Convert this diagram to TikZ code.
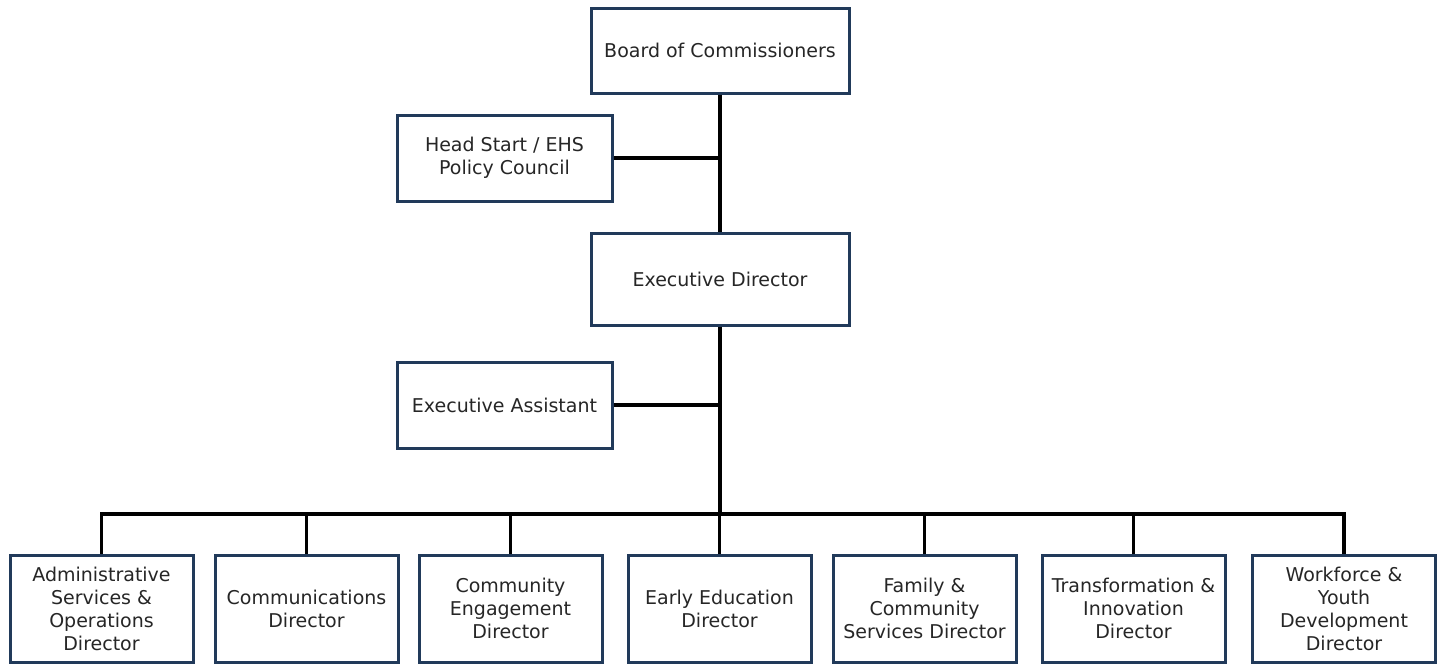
\documentclass[tikz,border=0pt]{standalone}
\usepackage{fontspec}
\setmainfont{DejaVu Sans}
\begin{document}
\begin{tikzpicture}[x=1pt,y=-1pt,
  box/.style={draw=boxblue,line width=3pt,fill=white,inner sep=0pt,align=center,
    font=\fontsize{19}{23}\selectfont,text=black!85},
  link/.style={line width=3.2pt,black}]
\definecolor{boxblue}{HTML}{213A5A}
\useasboundingbox (0,0) rectangle (1442,664);
% top boxes
\node[box,minimum width=258pt,minimum height=85pt] (board) at (720,50.5) {Board of Commissioners};
\node[box,minimum width=215pt,minimum height=86pt] (hs) at (504.5,158) {Head Start / EHS\\Policy Council};
\node[box,minimum width=258pt,minimum height=92pt] (ed) at (720,279) {Executive Director};
\node[box,minimum width=215pt,minimum height=86pt] (ea) at (504.5,405) {Executive Assistant};
% bottom boxes
\foreach \n/\x/\t in {a/101.5/{Administrative\\Services \&\\Operations\\Director},
  b/306.5/{Communications\\Director},
  c/510.5/{Community\\Engagement\\Director},
  d/719.5/{Early Education\\Director},
  e/924.5/{Family \&\\Community\\Services Director},
  f/1133.5/{Transformation \&\\Innovation\\Director},
  g/1344/{Workforce \&\\Youth\\Development\\Director}}
  \node[box,minimum width=183pt,minimum height=107pt] (\n) at (\x,608.5) {\t};
\coordinate (j1) at (720,158);
\coordinate (j2) at (720,405);
\coordinate (bus) at (720,514);
% connectors
\draw[link] (board.south) -- (j1) -- (ed.north);
\draw[link] (hs.east) -- (j1);
\draw[link] (ed.south) -- (j2) -- (bus);
\draw[link] (ea.east) -- (j2);
\draw[link] (a.north) |- (bus) -| (g.north);
\foreach \n in {b,c,d,e,f} \draw[link] (\n.north) -- (\n.north |- bus);
\end{tikzpicture}
\end{document}
